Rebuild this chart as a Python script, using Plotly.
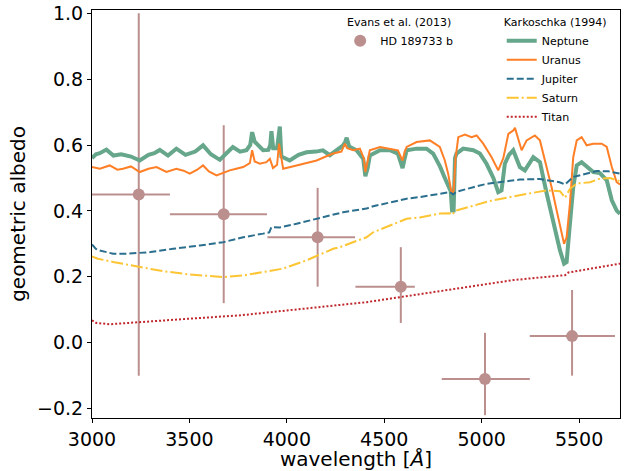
import plotly.graph_objects as go

# ---------------- data ----------------
# Evans et al. (2013) HD 189733 b
evans_wl = [3240, 3676, 4158, 4585, 5017, 5464]
evans_wl_lo = [300, 276, 258, 233, 222, 217]
evans_wl_hi = [160, 222, 192, 72, 230, 220]
evans_alb = [0.45, 0.39, 0.32, 0.17, -0.11, 0.02]
evans_err_hi = [0.55, 0.27, 0.15, 0.12, 0.14, 0.14]
evans_err_lo = [0.55, 0.27, 0.15, 0.11, 0.11, 0.12]

# Karkoschka (1994)
nep_wl = [3000, 3020, 3040, 3074, 3110, 3150, 3200, 3245, 3290, 3320, 3348, 3390, 3433, 3480,
          3530, 3570, 3610, 3656, 3690, 3723, 3760, 3793, 3812, 3822, 3835, 3860, 3878, 3905,
          3915, 3921, 3930, 3950, 3960, 3964, 3972, 4015, 4060, 4101, 4150, 4185, 4221, 4260,
          4289, 4300, 4307, 4320, 4358, 4392, 4403, 4415, 4426, 4478, 4529, 4570, 4586, 4594,
          4605, 4615, 4666, 4717, 4751, 4786, 4811, 4828, 4841, 4848, 4856, 4863, 4871, 4905,
          4957, 4991, 5025, 5060, 5085, 5102, 5119, 5140, 5162, 5196, 5222, 5265, 5299, 5334,
          5368, 5402, 5423, 5436, 5450, 5470, 5488, 5513, 5573, 5607, 5642, 5668, 5693, 5710]
nep_alb = [0.560, 0.572, 0.575, 0.586, 0.568, 0.572, 0.565, 0.553, 0.570, 0.575, 0.585, 0.568,
           0.589, 0.570, 0.580, 0.599, 0.572, 0.555, 0.575, 0.594, 0.580, 0.584, 0.600, 0.639,
           0.610, 0.595, 0.584, 0.585, 0.600, 0.642, 0.590, 0.590, 0.640, 0.656, 0.565, 0.553,
           0.570, 0.578, 0.580, 0.584, 0.569, 0.585, 0.599, 0.610, 0.622, 0.595, 0.584, 0.558,
           0.505, 0.530, 0.568, 0.584, 0.584, 0.574, 0.550, 0.530, 0.560, 0.584, 0.589, 0.589,
           0.574, 0.535, 0.500, 0.480, 0.460, 0.401, 0.401, 0.560, 0.574, 0.589, 0.584, 0.574,
           0.543, 0.500, 0.457, 0.462, 0.543, 0.570, 0.584, 0.533, 0.523, 0.563, 0.548, 0.452,
           0.361, 0.280, 0.240, 0.245, 0.341, 0.472, 0.538, 0.548, 0.518, 0.515, 0.493, 0.432,
           0.401, 0.391]

ura_wl = [3000, 3040, 3091, 3130, 3159, 3200, 3245, 3290, 3331, 3382, 3433, 3470, 3502, 3540,
          3570, 3600, 3639, 3670, 3707, 3740, 3776, 3810, 3822, 3835, 3861, 3895, 3913, 3929,
          3950, 3960, 3970, 3981, 4050, 4100, 4153, 4200, 4238, 4280, 4298, 4310, 4341, 4375,
          4395, 4403, 4415, 4426, 4478, 4529, 4570, 4588, 4594, 4605, 4615, 4666, 4734, 4785,
          4811, 4828, 4846, 4856, 4866, 4880, 4914, 4948, 4974, 5008, 5051, 5085, 5111, 5137,
          5162, 5171, 5188, 5205, 5231, 5273, 5299, 5325, 5359, 5385, 5410, 5423, 5436, 5453,
          5470, 5488, 5513, 5539, 5573, 5616, 5642, 5668, 5693, 5710]
ura_alb = [0.533, 0.528, 0.538, 0.525, 0.528, 0.535, 0.518, 0.528, 0.533, 0.518, 0.528, 0.522,
           0.513, 0.525, 0.538, 0.520, 0.508, 0.515, 0.523, 0.528, 0.533, 0.545, 0.584, 0.550,
           0.543, 0.548, 0.558, 0.530, 0.540, 0.604, 0.560, 0.528, 0.538, 0.545, 0.553, 0.565,
           0.574, 0.580, 0.604, 0.590, 0.584, 0.589, 0.560, 0.518, 0.550, 0.584, 0.594, 0.589,
           0.584, 0.560, 0.553, 0.580, 0.594, 0.609, 0.614, 0.594, 0.553, 0.513, 0.452, 0.460,
           0.560, 0.624, 0.632, 0.624, 0.629, 0.604, 0.563, 0.523, 0.560, 0.634, 0.644, 0.652,
           0.614, 0.584, 0.614, 0.629, 0.614, 0.553, 0.472, 0.401, 0.331, 0.300, 0.320, 0.422,
           0.563, 0.614, 0.624, 0.599, 0.604, 0.604, 0.594, 0.533, 0.487, 0.480]

jup_wl = [3000, 3020, 3040, 3108, 3180, 3245, 3300, 3416, 3500, 3553, 3673, 3776, 3878, 3910,
          3921, 3964, 4050, 4186, 4289, 4409, 4443, 4615, 4683, 4786, 4837, 4854, 4870, 4957,
          5025, 5128, 5196, 5299, 5368, 5400, 5428, 5470, 5590, 5650, 5710]
jup_alb = [0.298, 0.285, 0.280, 0.270, 0.270, 0.272, 0.275, 0.285, 0.290, 0.295, 0.305, 0.320,
           0.331, 0.335, 0.351, 0.350, 0.361, 0.381, 0.396, 0.407, 0.414, 0.437, 0.442, 0.452,
           0.457, 0.450, 0.458, 0.472, 0.482, 0.490, 0.495, 0.497, 0.490, 0.487, 0.480, 0.503,
           0.521, 0.520, 0.513]

sat_wl = [3000, 3030, 3108, 3245, 3365, 3502, 3600, 3673, 3776, 3878, 3981, 4101, 4238, 4272,
          4409, 4443, 4615, 4683, 4786, 4837, 4850, 4863, 5042, 5214, 5334, 5402, 5428, 5453,
          5488, 5556, 5607, 5659, 5710]
sat_alb = [0.262, 0.255, 0.245, 0.229, 0.217, 0.207, 0.202, 0.199, 0.204, 0.214, 0.225, 0.250,
           0.285, 0.290, 0.320, 0.335, 0.376, 0.380, 0.392, 0.393, 0.388, 0.400, 0.430, 0.450,
           0.462, 0.460, 0.440, 0.467, 0.483, 0.487, 0.498, 0.500, 0.490]

tit_wl = [3000, 3022, 3091, 3245, 3502, 3759, 4015, 4186, 4409, 4600, 4800, 5000, 5162, 5300,
          5428, 5445, 5600, 5710]
tit_alb = [0.068, 0.060, 0.056, 0.063, 0.073, 0.083, 0.098, 0.110, 0.123, 0.140, 0.157, 0.175,
           0.190, 0.198, 0.205, 0.213, 0.228, 0.240]

x_ticks = [3000, 3500, 4000, 4500, 5000, 5500]
y_ticks = [-0.2, 0.0, 0.2, 0.4, 0.6, 0.8, 1.0]

# ---------------- figure ----------------
FONT = "DejaVu Sans"
pt_color = "#bc8f8f"

fig = go.Figure()

fig.add_trace(go.Scatter(
    x=evans_wl, y=evans_alb, mode="markers", name="HD 189733 b",
    marker=dict(color=pt_color, size=12),
    error_x=dict(type="data", symmetric=False, array=evans_wl_hi, arrayminus=evans_wl_lo,
                 color=pt_color, thickness=2, width=0),
    error_y=dict(type="data", symmetric=False, array=evans_err_hi, arrayminus=evans_err_lo,
                 color=pt_color, thickness=2, width=0),
    legend="legend",
))

series = [
    ("Neptune", nep_wl, nep_alb, dict(color="#66a68b", width=4, dash="solid")),
    ("Uranus", ura_wl, ura_alb, dict(color="#ff7f27", width=2, dash="solid")),
    ("Jupiter", jup_wl, jup_alb, dict(color="#2b6f8e", width=2, dash="7px,3px")),
    ("Saturn", sat_wl, sat_alb, dict(color="#fdc533", width=2, dash="12px,3px,2px,3px")),
    ("Titan", tit_wl, tit_alb, dict(color="#c0282d", width=2, dash="2px,2px")),
]
for name, xs, ys, line in series:
    fig.add_trace(go.Scatter(x=xs, y=ys, mode="lines", name=name, line=line, legend="legend2"))

axis_common = dict(
    showline=True, linecolor="black", linewidth=1, mirror=True,
    ticks="outside", ticklen=4, tickwidth=1, tickcolor="black",
    showgrid=False, zeroline=False, automargin=False,
    tickfont=dict(family=FONT, size=19, color="black"),
)

fig.update_xaxes(
    range=[3000, 5710], tickvals=x_ticks, ticktext=[str(v) for v in x_ticks],
    title=dict(text="wavelength [<i>Å</i>]", font=dict(family=FONT, size=20, color="black"), standoff=4),
    **axis_common,
)
fig.update_yaxes(
    range=[-0.2285, 1.0097], tickvals=y_ticks, tickformat=".1f",
    title=dict(text="geometric albedo", font=dict(family=FONT, size=20, color="black"), standoff=6),
    **axis_common,
)

legend_common = dict(
    font=dict(family=FONT, size=11, color="black"),
    bgcolor="rgba(0,0,0,0)", borderwidth=0, xanchor="left", yanchor="top",
    tracegroupgap=0, itemwidth=30,
)
fig.update_layout(
    width=624, height=471,
    margin=dict(l=92, r=4, t=10, b=53, autoexpand=False),
    paper_bgcolor="white", plot_bgcolor="white",
    font=dict(family=FONT, color="black"),
    legend=dict(title=dict(text="Evans et al. (2013)", side="top center",
                           font=dict(family=FONT, size=11, color="black")),
                x=0.47, y=0.995, **legend_common),
    legend2=dict(title=dict(text="Karkoschka (1994)", side="top center",
                            font=dict(family=FONT, size=11, color="black")),
                 x=0.776, y=0.995, **legend_common),
    showlegend=True,
)

fig.write_html("out.html", config={"displayModeBar": False},
               post_script="document.body.style.margin='0';")
